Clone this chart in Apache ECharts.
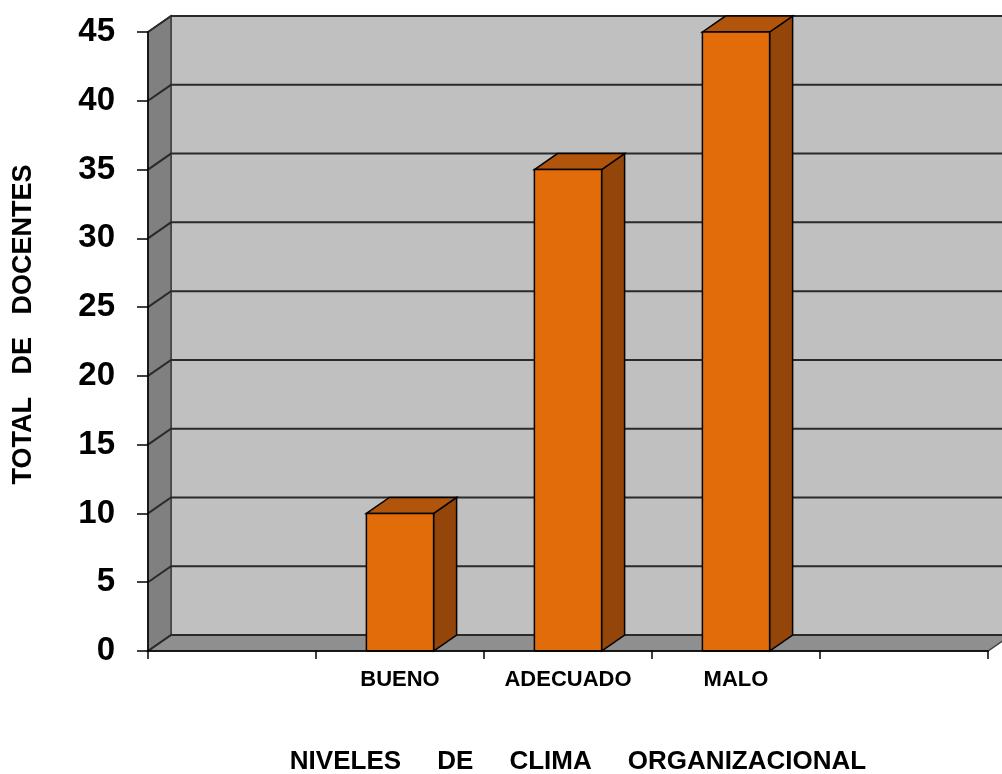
<!DOCTYPE html>
<html><head><meta charset="utf-8">
<script src="https://cdn.jsdelivr.net/npm/echarts@6/dist/echarts.min.js"></script>
<style>html,body{margin:0;padding:0;background:#fff}#c{width:1002px;height:774px}</style>
</head><body><div id="c"></div>
<script>
const categories = ['', 'BUENO', 'ADECUADO', 'MALO', ''];
const values = [null, 10, 35, 45, null];
const yTicks = [0, 5, 10, 15, 20, 25, 30, 35, 40, 45];
const xTitle = 'NIVELES     DE     CLIMA     ORGANIZACIONAL';
const yTitle = 'TOTAL   DE   DOCENTES';

const FONT = '"Liberation Sans", Arial, sans-serif';
const chart = echarts.init(document.getElementById('c'), null, {renderer: 'canvas'});

function depth(api) { const bw = api.size([1, 0])[0]; return [bw * 0.137, bw * 0.095]; }

function renderWalls(params, api) {
  const cs = params.coordSys;
  const [dx, dy] = depth(api);
  const x0 = cs.x, x1 = cs.x + cs.width, yb = cs.y + cs.height, yt = cs.y;
  const ch = [];
  ch.push({type: 'polygon', shape: {points: [[x0 + dx, yt - dy], [x1 + dx, yt - dy], [x1 + dx, yb - dy], [x0 + dx, yb - dy]]},
    style: {fill: '#c0c0c0', stroke: '#404040', lineWidth: 1.5}});
  ch.push({type: 'polygon', shape: {points: [[x0, yt], [x0 + dx, yt - dy], [x0 + dx, yb - dy], [x0, yb]]},
    style: {fill: '#808080', stroke: '#404040', lineWidth: 1.5}});
  ch.push({type: 'polygon', shape: {points: [[x0, yb], [x1, yb], [x1 + dx, yb - dy], [x0 + dx, yb - dy]]},
    style: {fill: '#8f8f8f', stroke: '#404040', lineWidth: 1.5}});
  yTicks.forEach(v => {
    const y = api.coord([0, v])[1];
    ch.push({type: 'polyline', shape: {points: [[x0, y], [x0 + dx, y - dy], [x1 + dx, y - dy]]},
      style: {stroke: '#2a2a2a', lineWidth: 2, fill: null}});
  });
  return {type: 'group', children: ch};
}

function renderBar(params, api) {
  const v = api.value(1);
  const top = api.coord([api.value(0), v]);
  const base = api.coord([api.value(0), 0]);
  const bw = api.size([1, 0])[0] * 0.4;
  const [dx, dy] = depth(api);
  const l = top[0] - bw / 2, r = top[0] + bw / 2, yt = top[1], yb = base[1];
  return {type: 'group', children: [
    {type: 'polygon', shape: {points: [[r, yt], [r + dx, yt - dy], [r + dx, yb - dy], [r, yb]]},
      style: {fill: '#93450a', stroke: '#000', lineWidth: 1.5}},
    {type: 'polygon', shape: {points: [[l, yt], [l + dx, yt - dy], [r + dx, yt - dy], [r, yt]]},
      style: {fill: '#b0550b', stroke: '#000', lineWidth: 1.5}},
    {type: 'rect', shape: {x: l, y: yt, width: bw, height: yb - yt},
      style: {fill: '#e36c0a', stroke: '#000', lineWidth: 1.5}}
  ]};
}

const barData = values.map((v, i) => v == null ? null : [i, v]).filter(d => d);

chart.setOption({
  animation: false,
  grid: {left: 148, right: 14, top: 32, bottom: 123, containLabel: false, outerBoundsMode: 'none'},
  xAxis: {
    type: 'category', data: categories, z: 5,
    axisLine: {show: true, lineStyle: {color: '#000', width: 1.5}},
    axisTick: {show: true, length: 8, interval: 0, lineStyle: {color: '#000', width: 1.5}},
    axisLabel: {interval: 0, margin: 18, color: '#000', fontSize: 22, fontWeight: 'bold', fontFamily: FONT},
    splitLine: {show: false},
    name: xTitle, nameLocation: 'middle', nameGap: 98,
    nameTextStyle: {color: '#000', fontSize: 26, fontWeight: 'bold', fontFamily: FONT, padding: [0, 0, 0, 20]}
  },
  yAxis: {
    type: 'value', min: 0, max: 45, interval: 5, z: 5,
    axisLine: {show: true, lineStyle: {color: '#000', width: 1.5}},
    axisTick: {show: true, length: 11, lineStyle: {color: '#000', width: 1.5}},
    axisLabel: {margin: 33, color: '#000', fontSize: 33, fontWeight: 'bold', fontFamily: FONT},
    splitLine: {show: false},
    name: yTitle, nameLocation: 'middle', nameGap: 111, nameRotate: 90,
    nameTextStyle: {color: '#000', fontSize: 27, fontWeight: 'bold', fontFamily: FONT, padding: [0, 0, 0, 34]}
  },
  series: [
    {type: 'custom', z: 1, renderItem: renderWalls, data: [[0, 0]], encode: {x: 0, y: 1}, silent: true},
    {type: 'custom', z: 3, renderItem: renderBar, data: barData, encode: {x: 0, y: 1}}
  ]
});
</script></body></html>
